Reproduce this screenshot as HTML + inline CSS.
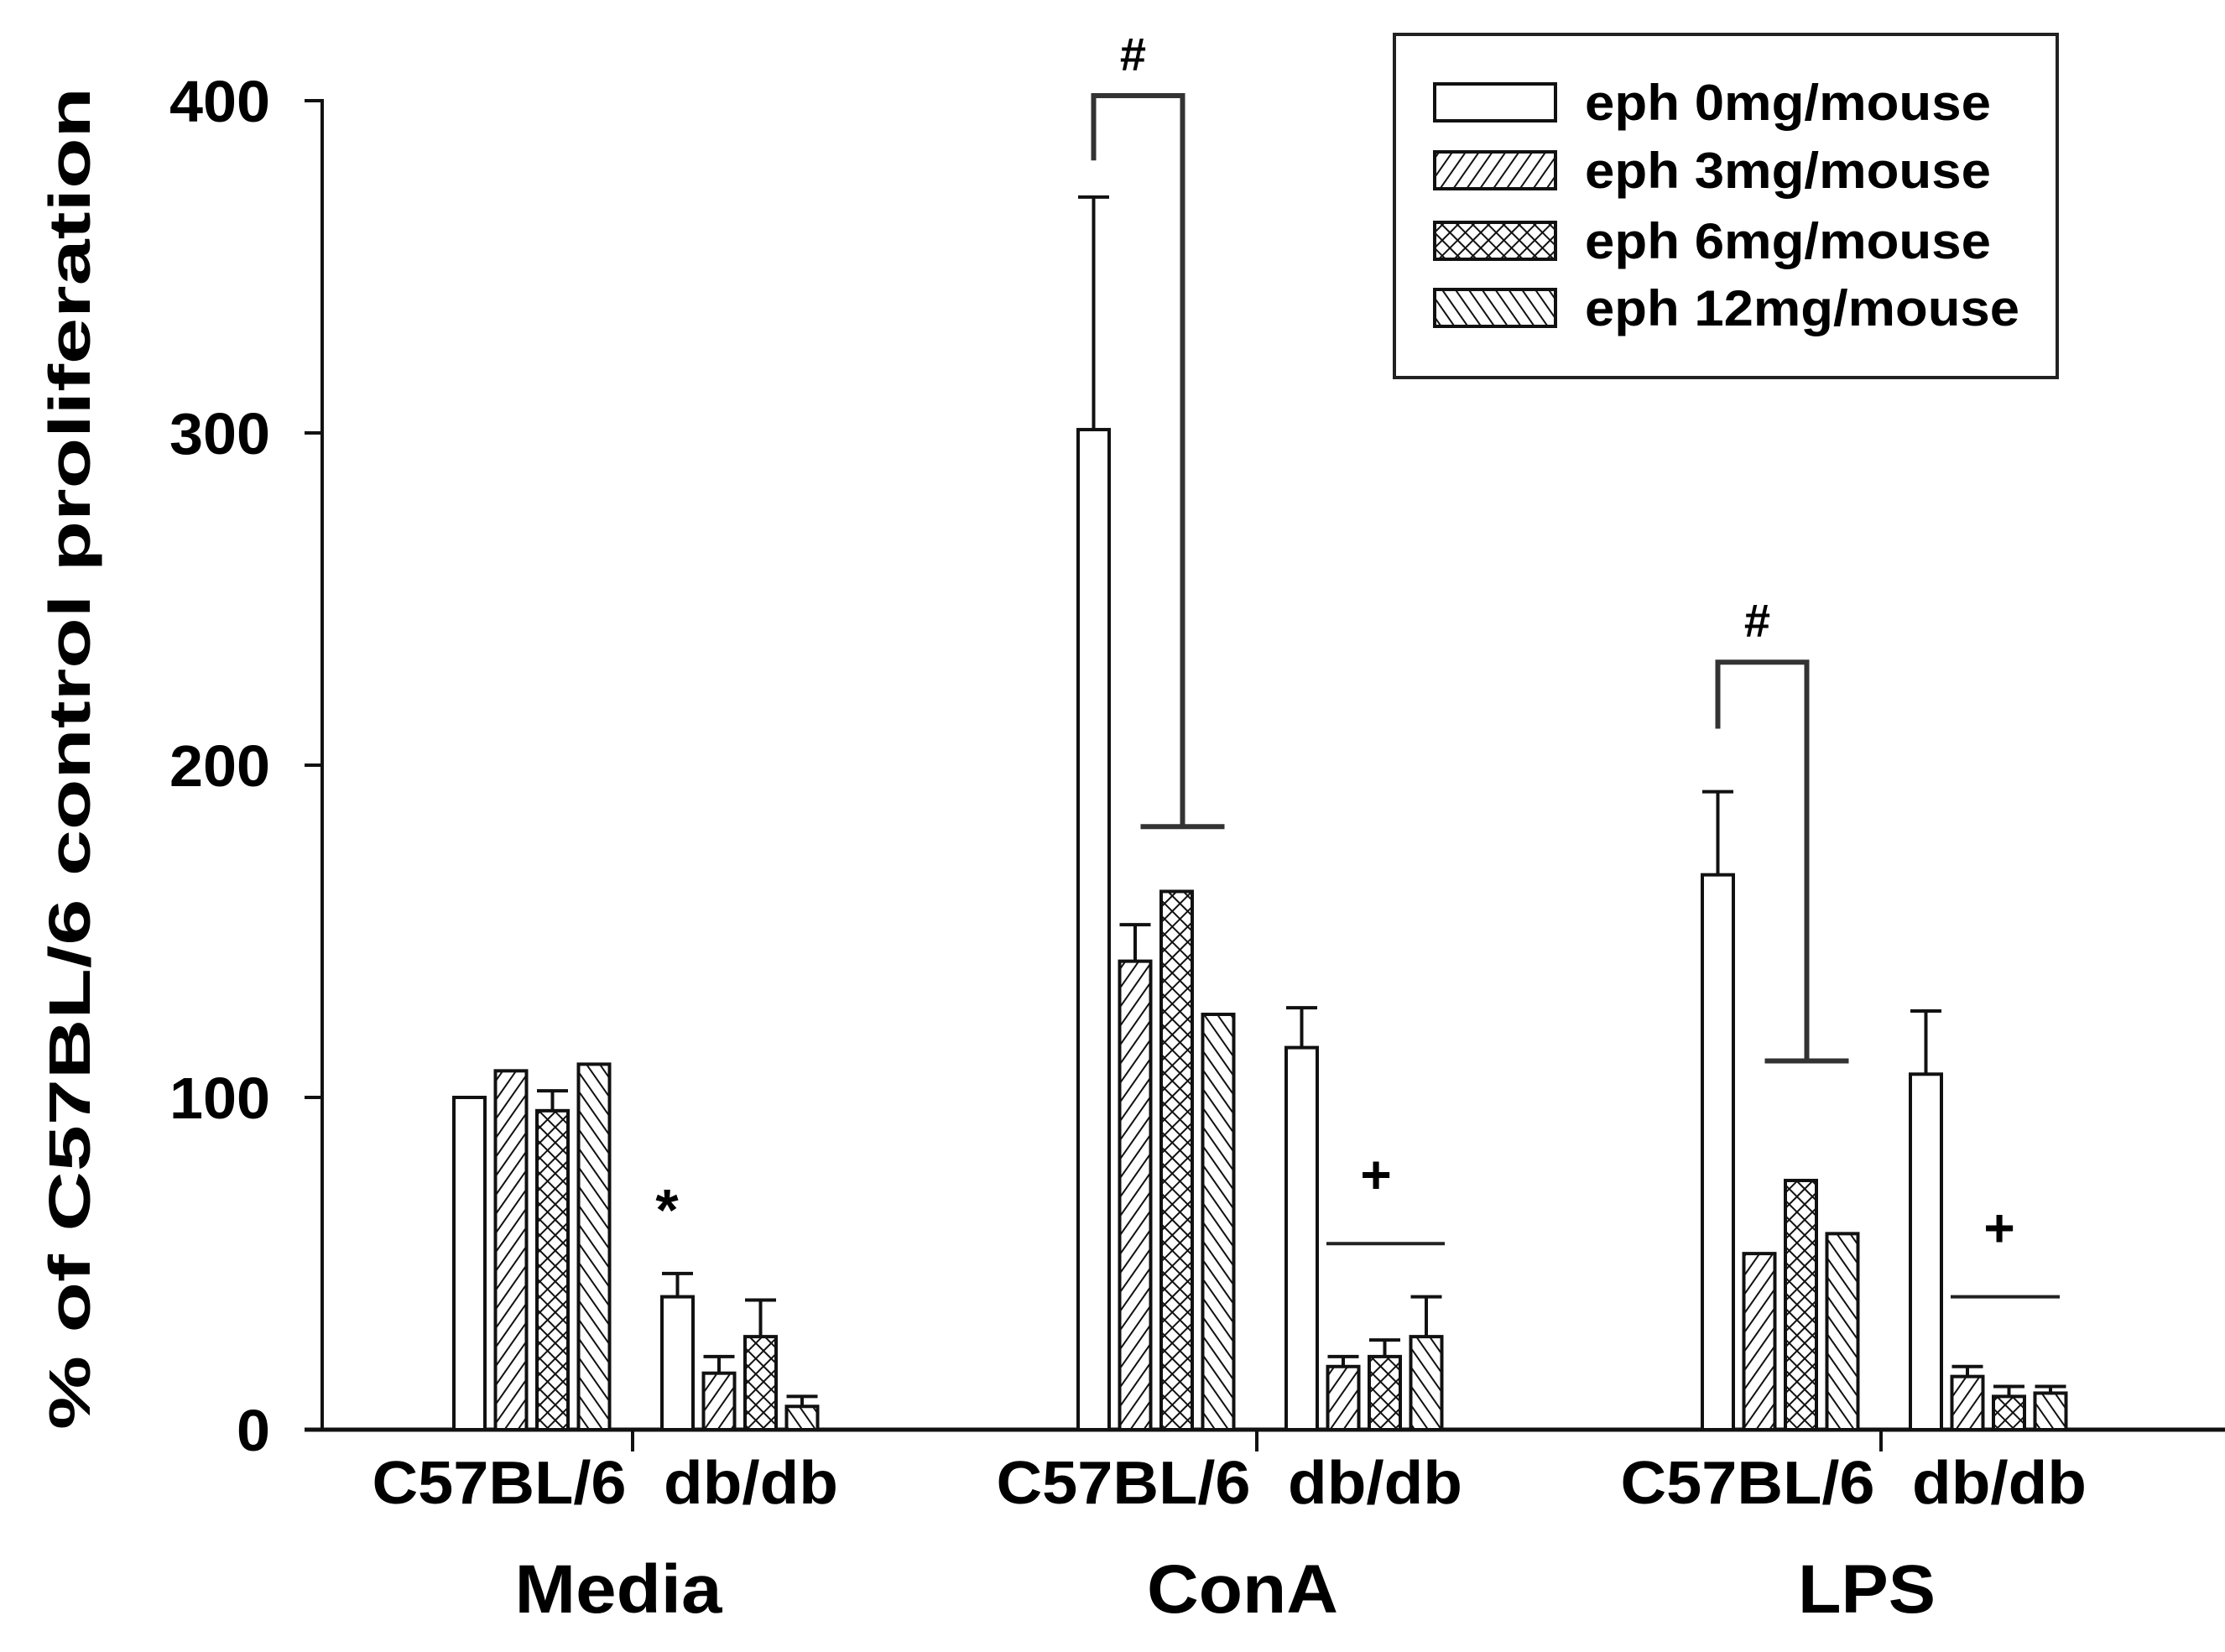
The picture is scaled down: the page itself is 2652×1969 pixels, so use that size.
<!DOCTYPE html>
<html><head><meta charset="utf-8"><style>
html,body{margin:0;padding:0;background:#fff;}
svg{display:block;font-family:"Liberation Sans",Arial,sans-serif;font-weight:bold;}
</style></head><body>
<svg id="chart" width="2652" height="1969" viewBox="0 0 2652 1969" xmlns="http://www.w3.org/2000/svg">
<defs>
<pattern id="p3" patternUnits="userSpaceOnUse" width="13" height="13" patternTransform="rotate(35)"><rect width="13" height="13" fill="#fff"/><line x1="0" y1="0" x2="0" y2="13" stroke="#111" stroke-width="4"/></pattern>
<pattern id="p6" patternUnits="userSpaceOnUse" width="13" height="13" patternTransform="rotate(45)"><rect width="13" height="13" fill="#fff"/><line x1="0" y1="0" x2="0" y2="13" stroke="#111" stroke-width="4"/><line x1="0" y1="0" x2="13" y2="0" stroke="#111" stroke-width="4"/></pattern>
<pattern id="p12" patternUnits="userSpaceOnUse" width="13" height="13" patternTransform="rotate(-35)"><rect width="13" height="13" fill="#fff"/><line x1="0" y1="0" x2="0" y2="13" stroke="#111" stroke-width="4"/></pattern>
</defs>
<g id="axes"></g>
<g id="bars"></g>
<g id="annot"></g>
<g id="legend"></g>
</svg>
<script>
const conditions = ["Media", "ConA", "LPS"];
const strains = ["C57BL/6", "db/db"];
const seriesNames = ["eph 0mg/mouse", "eph 3mg/mouse", "eph 6mg/mouse", "eph 12mg/mouse"];
const yTicks = [0, 100, 200, 300, 400];
// values: [condition][strain]
const dose0 = [[100, 40], [301, 115], [167, 107]];
const dose3 = [[108, 17], [141, 19], [53, 16]];
const dose6 = [[96, 28], [162, 22], [75, 10]];
const dose12 = [[110, 7], [125, 28], [59, 11]];
const err0 = [[100, 47], [371, 127], [192, 126]];
const err3 = [[108.5, 22], [152, 22], [53, 19]];
const err6 = [[102, 39], [162, 27], [75, 13]];
const err12 = [[110, 10], [125, 40], [59, 13]];

const NS = "http://www.w3.org/2000/svg";
const fills = ["#fff", "url(#p3)", "url(#p6)", "url(#p12)"];
const Y0 = 1704, PXU = 3.96, AX = 384;
function y(v){ return Y0 - v * PXU; }
function condStart(c){ return 541 + c * 744; }
function barX(c, s, k){ return condStart(c) + s * 248 + k * 49.5; }
const BW = 37;
function mk(tag, attrs, parent){ const e = document.createElementNS(NS, tag); for (const k in attrs) e.setAttribute(k, attrs[k]); parent.appendChild(e); return e; }
const axes = document.getElementById("axes"), bars = document.getElementById("bars"), annot = document.getElementById("annot"), legend = document.getElementById("legend");

let e = mk("line", {x1: AX, y1: y(400) - 2, x2: AX, y2: Y0 + 2, stroke: "#111", "stroke-width": 4}, axes);


e = mk("line", {x1: 363, y1: Y0, x2: 2652, y2: Y0, stroke: "#111", "stroke-width": 5}, axes);


yTicks.forEach(t => {
  let l = mk("line", {x1: 363, y1: y(t), x2: AX, y2: y(t), stroke: "#111", "stroke-width": 4}, axes);
  
  
  const s = String(t);
  let tx = mk("text", {x: 322, y: y(t) + 25, "text-anchor": "end", "font-size": 70, fill: "#000", textLength: s.length * 40, lengthAdjust: "spacingAndGlyphs"}, axes);
  tx.textContent = s;
  
  
});
e = mk("text", {x: 0, y: 0, transform: "translate(107,904) rotate(-90)", "text-anchor": "middle", "font-size": 70, fill: "#000", textLength: 1600, lengthAdjust: "spacingAndGlyphs"}, axes);
e.textContent = "% of C57BL/6 control proliferation";



const condW = [247, 228, 164];
const vals = [dose0, dose3, dose6, dose12], errs = [err0, err3, err6, err12];
conditions.forEach((cn, c) => {
  let tk = mk("line", {x1: condStart(c) + 213, y1: Y0, x2: condStart(c) + 213, y2: Y0 + 26, stroke: "#111", "stroke-width": 4}, axes);
  
  
  strains.forEach((sn, s) => {
    let lbl = mk("text", {x: condStart(c) + s * 248 + (s ? 106 : 54), y: 1792, "text-anchor": "middle", "font-size": 72, fill: "#000", textLength: s ? 208 : 303, lengthAdjust: "spacingAndGlyphs"}, axes);
    lbl.textContent = sn;
    
    
    for (let k = 0; k < 4; k++) {
      const v = vals[k][c][s], er = errs[k][c][s], x = barX(c, s, k);
      if (er > v + 0.5) {
        let el = mk("line", {x1: x + BW / 2, y1: y(v), x2: x + BW / 2, y2: y(er), stroke: "#111", "stroke-width": 4}, bars);
        
        
        let cap = mk("line", {x1: x, y1: y(er), x2: x + BW, y2: y(er), stroke: "#111", "stroke-width": 4}, bars);
        
        
      }
      let r = mk("rect", {x: x, y: y(v), width: BW, height: Y0 - y(v), fill: fills[k], stroke: "#111", "stroke-width": 4}, bars);
      
      
    }
  });
  let cl = mk("text", {x: condStart(c) + 196, y: 1922, "text-anchor": "middle", "font-size": 82, fill: "#000", textLength: condW[c], lengthAdjust: "spacingAndGlyphs"}, axes);
  cl.textContent = cn;
  
  
});

function bracket(c, top, low){
  const x1 = barX(c, 0, 0) + BW / 2, x2 = x1 + 106;
  let p = mk("path", {d: `M${x1} ${y(dose0[c][0] > 200 ? 382 : 211)} V${y(top)} H${x2} V${y(low)}`, fill: "none", stroke: "#333", "stroke-width": 6}, annot);
  
  
  let cp = mk("line", {x1: x2 - 50, y1: y(low), x2: x2 + 50, y2: y(low), stroke: "#333", "stroke-width": 6}, annot);
  
  
  let h = mk("text", {x: (x1 + x2) / 2 - 6, y: y(top) - 30, "text-anchor": "middle", "font-size": 56, fill: "#000"}, annot);
  h.textContent = "#";
  
  
}
bracket(1, 401.5, 181.5);
bracket(2, 231, 111);

e = mk("text", {x: 795, y: 1466, "text-anchor": "middle", "font-size": 70, fill: "#000"}, annot);
e.textContent = "*";


[[1, 56, 1640, 1581, 1722], [2, 40, 2383, 2325, 2455]].forEach(a => {
  let ln = mk("line", {x1: a[3], y1: y(a[1]), x2: a[4], y2: y(a[1]), stroke: "#222", "stroke-width": 4}, annot);
  
  
  let pt = mk("text", {x: a[2], y: y(a[1]) - 60, "text-anchor": "middle", "font-size": 64, fill: "#000"}, annot);
  pt.textContent = "+";
  
  
});

e = mk("rect", {x: 1662, y: 41, width: 790, height: 409, fill: "#fff", stroke: "#222", "stroke-width": 4}, legend);


const legY = [122, 203, 287, 367];
seriesNames.forEach((n, k) => {
  let sw = mk("rect", {x: 1710, y: legY[k] - 22, width: 144, height: 44, fill: fills[k], stroke: "#111", "stroke-width": 4}, legend);
  
  
  let t = mk("text", {x: 1889, y: legY[k] + 21, "font-size": 60, fill: "#000", textLength: k === 3 ? 518 : 484, lengthAdjust: "spacingAndGlyphs"}, legend);
  t.textContent = n;
  
  
});
</script>
</body></html>
